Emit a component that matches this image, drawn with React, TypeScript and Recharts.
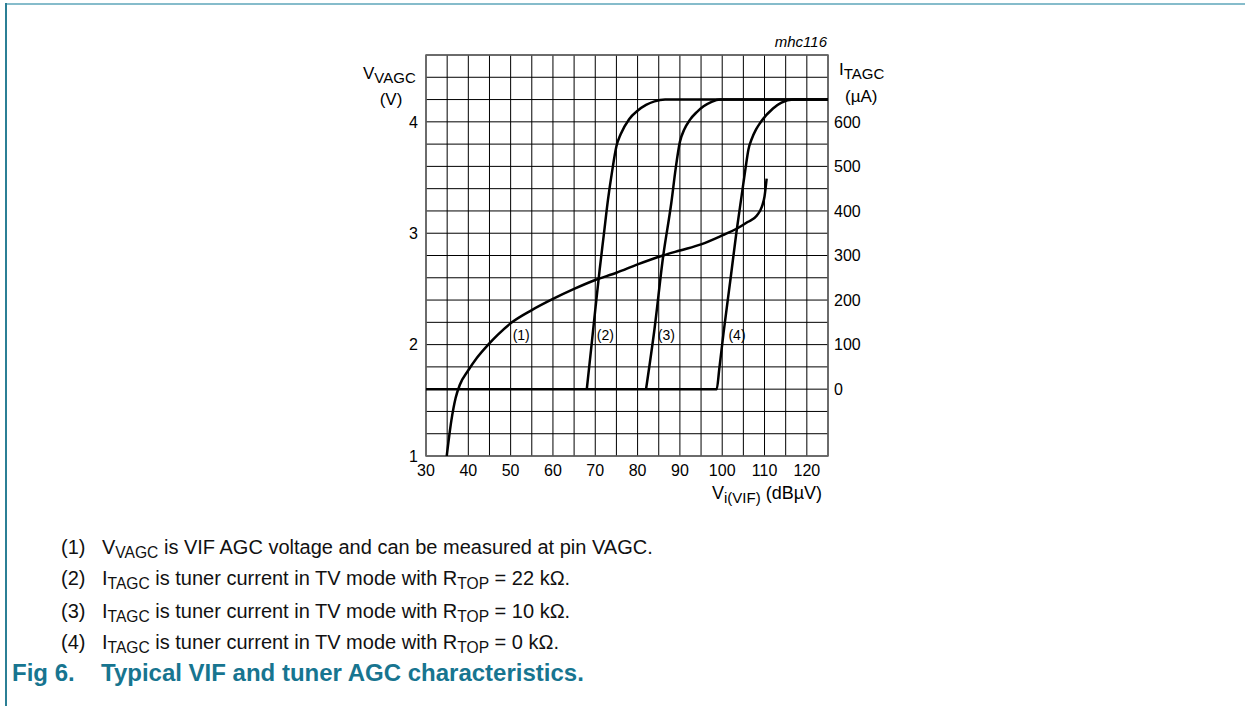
import React from "react";
import {
  ComposedChart,
  Line,
  XAxis,
  YAxis,
  CartesianGrid,
  ReferenceArea,
  ReferenceDot,
} from "recharts";

// grid + tick values
const X_GRID = [30, 35, 40, 45, 50, 55, 60, 65, 70, 75, 80, 85, 90, 95, 100, 105, 110, 115, 120, 125];
const X_LABELS = [30, 40, 50, 60, 70, 80, 90, 100, 110, 120];
const V_GRID = [1, 1.2, 1.4, 1.6, 1.8, 2, 2.2, 2.4, 2.6, 2.8, 3, 3.2, 3.4, 3.6, 3.8, 4, 4.2, 4.4, 4.6];
const V_LABELS = [1, 2, 3, 4];
const I_TICKS = [0, 100, 200, 300, 400, 500, 600];

// (1) VIF AGC voltage, volts
const vagc = [
  { x: 34.9, y: 1.0 },
  { x: 36, y: 1.32 },
  { x: 37, y: 1.52 },
  { x: 38, y: 1.64 },
  { x: 40, y: 1.77 },
  { x: 42, y: 1.88 },
  { x: 44.7, y: 2.0 },
  { x: 47, y: 2.09 },
  { x: 50.3, y: 2.2 },
  { x: 55, y: 2.31 },
  { x: 60, y: 2.41 },
  { x: 65, y: 2.5 },
  { x: 70, y: 2.58 },
  { x: 75, y: 2.645 },
  { x: 80, y: 2.72 },
  { x: 86, y: 2.8 },
  { x: 90, y: 2.845 },
  { x: 95, y: 2.9 },
  { x: 100, y: 2.98 },
  { x: 103.4, y: 3.04 },
  { x: 106, y: 3.1 },
  { x: 108.2, y: 3.16 },
  { x: 109.4, y: 3.24 },
  { x: 110, y: 3.33 },
  { x: 110.5, y: 3.49 },
];

// (2) tuner current, RTOP = 22 kOhm, uA
const tagc22 = [
  { x: 68, y: 0 },
  { x: 69, y: 88 },
  { x: 70, y: 178 },
  { x: 71, y: 265 },
  { x: 72, y: 345 },
  { x: 73, y: 425 },
  { x: 74, y: 490 },
  { x: 75, y: 545 },
  { x: 76, y: 572 },
  { x: 78, y: 606 },
  { x: 80, y: 625 },
  { x: 82, y: 638 },
  { x: 84, y: 646 },
  { x: 86.5, y: 650 },
  { x: 125, y: 650 },
];

// (3) RTOP = 10 kOhm
const tagc10 = [
  { x: 82, y: 0 },
  { x: 84, y: 135 },
  { x: 86, y: 295 },
  { x: 88, y: 420 },
  { x: 89, y: 495 },
  { x: 90, y: 555 },
  { x: 91, y: 582 },
  { x: 92.4, y: 605 },
  { x: 94, y: 622 },
  { x: 95.6, y: 635 },
  { x: 97.5, y: 645 },
  { x: 99.5, y: 650 },
  { x: 125, y: 650 },
];

// (4) RTOP = 0 kOhm
const tagc0 = [
  { x: 30, y: 0 },
  { x: 98.7, y: 0 },
  { x: 99.3, y: 45 },
  { x: 100.3, y: 125 },
  { x: 102, y: 250 },
  { x: 103.4, y: 355 },
  { x: 104.6, y: 435 },
  { x: 105.5, y: 495 },
  { x: 106.2, y: 538 },
  { x: 107, y: 562 },
  { x: 108, y: 583 },
  { x: 109, y: 598 },
  { x: 112, y: 630 },
  { x: 114, y: 643 },
  { x: 116.8, y: 650 },
  { x: 125, y: 650 },
];

const curveLabels = [
  { x: 52.5, v: 2.085, text: "(1)" },
  { x: 72.4, v: 2.085, text: "(2)" },
  { x: 86.8, v: 2.085, text: "(3)" },
  { x: 103.5, v: 2.085, text: "(4)" },
];

const FONT = '"Liberation Sans", Arial, sans-serif';
const TEAL = "#177590";

const note: React.CSSProperties = {
  position: "absolute",
  fontSize: 20,
  lineHeight: "20px",
  whiteSpace: "nowrap",
  color: "#111",
};

function Note({ top, num, children }: { top: number; num: string; children: React.ReactNode }) {
  return (
    <>
      <div style={{ ...note, left: 61, top }}>{num}</div>
      <div style={{ ...note, left: 102, top }}>{children}</div>
    </>
  );
}

const sub: React.CSSProperties = { fontSize: "0.78em", verticalAlign: "-0.25em", lineHeight: 0 };

const caption: React.CSSProperties = {
  position: "absolute",
  top: 661,
  fontSize: 24,
  lineHeight: "24px",
  fontWeight: "bold",
  color: TEAL,
  whiteSpace: "nowrap",
};

export default function App() {
  const isLabel = (v: number, list: number[]) => list.some((l) => Math.abs(l - v) < 1e-6);

  return (
    <div
      style={{
        position: "absolute",
        left: 0,
        top: 0,
        width: 1245,
        height: 706,
        background: "#fff",
        overflow: "hidden",
        fontFamily: FONT,
      }}
    >
      {/* page frame */}
      <div style={{ position: "absolute", left: 5, top: 3, width: 1240, height: 2, background: "#86bccb" }} />
      <div style={{ position: "absolute", left: 5, top: 3, width: 1.5, height: 703, background: "#2b7f95" }} />

      <div style={{ position: "absolute", left: 0, top: 0 }}>
        <ComposedChart width={1245} height={706} margin={{ top: 55, right: 357, bottom: 220, left: 376 }}>
          <CartesianGrid xAxisId="x" yAxisId="left" stroke="#000" strokeWidth={1} />
          <XAxis
            xAxisId="x"
            type="number"
            dataKey="x"
            domain={[30, 125]}
            ticks={X_GRID}
            interval={0}
            height={30}
            tickSize={0}
            tickMargin={9}
            axisLine={false}
            tickLine={false}
            allowDataOverflow
            tick={{ fontSize: 16, fill: "#000" }}
            tickFormatter={(v: number) => (isLabel(v, X_LABELS) ? String(v) : "")}
          />
          <YAxis
            yAxisId="left"
            type="number"
            domain={[1, 4.6]}
            ticks={V_GRID}
            interval={0}
            width={50}
            tickSize={0}
            tickMargin={8}
            axisLine={false}
            tickLine={false}
            allowDataOverflow
            tick={{ fontSize: 16, fill: "#000" }}
            tickFormatter={(v: number) => (isLabel(v, V_LABELS) ? String(v) : "")}
          />
          <YAxis
            yAxisId="right"
            orientation="right"
            type="number"
            domain={[-150, 750]}
            ticks={I_TICKS}
            interval={0}
            width={60}
            tickSize={0}
            tickMargin={6}
            axisLine={false}
            tickLine={false}
            allowDataOverflow
            tick={{ fontSize: 16, fill: "#000", textAnchor: "start" }}
          />
          <ReferenceArea
            xAxisId="x"
            yAxisId="left"
            x1={30}
            x2={125}
            y1={1}
            y2={4.6}
            fill="none"
            fillOpacity={0}
            stroke="#666"
            strokeWidth={1.5}
          />
          <Line xAxisId="x" yAxisId="right" data={tagc0} dataKey="y" type="monotone" stroke="#000" strokeWidth={2.5} dot={false} isAnimationActive={false} />
          <Line xAxisId="x" yAxisId="right" data={tagc22} dataKey="y" type="monotone" stroke="#000" strokeWidth={2.5} dot={false} isAnimationActive={false} />
          <Line xAxisId="x" yAxisId="right" data={tagc10} dataKey="y" type="monotone" stroke="#000" strokeWidth={2.5} dot={false} isAnimationActive={false} />
          <Line xAxisId="x" yAxisId="left" data={vagc} dataKey="y" type="monotone" stroke="#000" strokeWidth={2.5} dot={false} isAnimationActive={false} />
          {curveLabels.map((c) => (
            <ReferenceDot
              key={c.text}
              xAxisId="x"
              yAxisId="left"
              x={c.x}
              y={c.v}
              r={0}
              fill="none"
              stroke="none"
              label={{ value: c.text, position: "center", fontSize: 14, fill: "#000" }}
            />
          ))}
        </ComposedChart>
      </div>

      {/* axis titles */}
      <svg
        width={1245}
        height={706}
        style={{ position: "absolute", left: 0, top: 0, pointerEvents: "none", fontFamily: FONT }}
      >
        <text x={363} y={79} fontSize={17} fill="#000">
          V<tspan fontSize={15} dy={4}>VAGC</tspan>
        </text>
        <text x={391} y={105} fontSize={17} fill="#000" textAnchor="middle">(V)</text>
        <text x={839} y={75} fontSize={17} fill="#000">
          I<tspan fontSize={15} dy={4}>TAGC</tspan>
        </text>
        <text x={845} y={102} fontSize={17} fill="#000">(µA)</text>
        <text x={827} y={47} fontSize={15} fill="#000" textAnchor="end" fontStyle="italic">mhc116</text>
        <text x={712} y={499} fontSize={18} fill="#000">
          V<tspan fontSize={15} dy={4}>i(VIF)</tspan>
          <tspan dy={-4}> (dBµV)</tspan>
        </text>
      </svg>

      {/* notes */}
      <Note top={537} num="(1)">
        V<span style={sub}>VAGC</span> is VIF AGC voltage and can be measured at pin VAGC.
      </Note>
      <Note top={568} num="(2)">
        I<span style={sub}>TAGC</span> is tuner current in TV mode with R<span style={sub}>TOP</span> = 22 kΩ.
      </Note>
      <Note top={601} num="(3)">
        I<span style={sub}>TAGC</span> is tuner current in TV mode with R<span style={sub}>TOP</span> = 10 kΩ.
      </Note>
      <Note top={632} num="(4)">
        I<span style={sub}>TAGC</span> is tuner current in TV mode with R<span style={sub}>TOP</span> = 0 kΩ.
      </Note>

      <div style={{ ...caption, left: 12 }}>Fig 6.</div>
      <div style={{ ...caption, left: 101 }}>Typical VIF and tuner AGC characteristics.</div>
    </div>
  );
}
